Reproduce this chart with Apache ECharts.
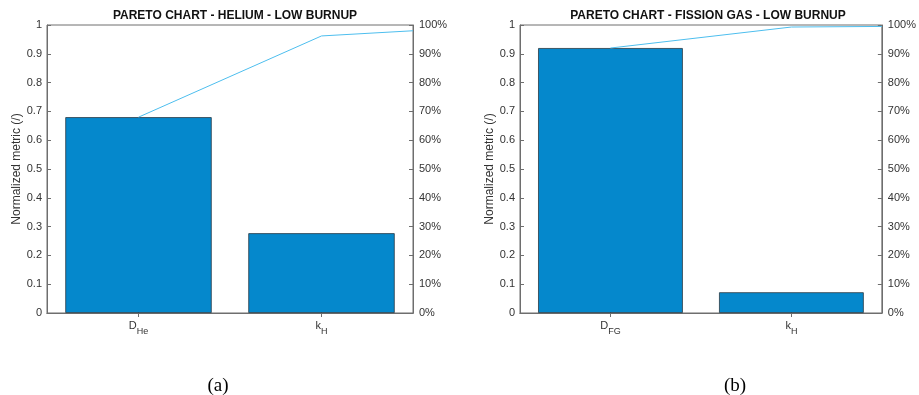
<!DOCTYPE html>
<html>
<head>
<meta charset="utf-8">
<script src="https://cdn.jsdelivr.net/npm/echarts@6/dist/echarts.min.js"></script>
<style>
    html, body { margin: 0; padding: 0; background: #fff; }
    #chart { width: 919px; height: 395px; }
</style>
</head>
<body>
<div id="chart"></div>
<script>
// categories: main symbol | subscript
var catsA = ['D|He', 'k|H'];
var valsA = [0.68, 0.277];
var catsB = ['D|FG', 'k|H'];
var valsB = [0.92, 0.072];

// cumulative line (percent), x positions in category units
var cumX = [0.5, 1.5, 2];
var cumA = [68, 96.2, 98];
var cumB = [92, 99.3, 99.5];

var titles = ['PARETO CHART - HELIUM - LOW BURNUP', 'PARETO CHART - FISSION GAS - LOW BURNUP'];
var panelTags = ['(a)', '(b)'];

var axisColor = '#6e6e6e';
var textColor = '#333';
var font = 'Liberation Sans, Arial, sans-serif';

function catLabel(v) {
    var p = v.split('|');
    return '{b|' + p[0] + '}{s|' + p[1] + '}';
}

function buildPanel(i, cats, vals, cum) {
    var xCat = {
        type: 'category', gridIndex: i, data: cats, position: 'bottom',
        axisLine: { show: true, lineStyle: { color: axisColor } },
        axisTick: { show: true, inside: true, alignWithLabel: true, length: 4, lineStyle: { color: axisColor } },
        axisLabel: {
            margin: 7, formatter: catLabel,
            rich: {
                b: { fontFamily: font, fontSize: 11, color: textColor, verticalAlign: 'top', lineHeight: 13 },
                s: { fontFamily: font, fontSize: 9, color: textColor, verticalAlign: 'top', lineHeight: 13, padding: [7, 0, 0, 0] }
            }
        }
    };
    var xTop = {
        type: 'category', gridIndex: i, data: cats, position: 'top', show: true,
        axisLine: { show: true, lineStyle: { color: axisColor } },
        axisTick: { show: true, inside: true, alignWithLabel: true, length: 4, lineStyle: { color: axisColor } },
        axisLabel: { show: false }
    };
    var xLine = {
        type: 'value', gridIndex: i, min: 0, max: 2, show: false
    };
    var yLeft = {
        type: 'value', gridIndex: i, min: 0, max: 1, interval: 0.1, position: 'left',
        name: 'Normalized metric (/)', nameLocation: 'middle', nameGap: 24,
        nameTextStyle: { fontFamily: font, fontSize: 12, color: textColor },
        axisLine: { show: true, lineStyle: { color: axisColor } },
        axisTick: { show: true, inside: true, length: 4, lineStyle: { color: axisColor } },
        axisLabel: { fontFamily: font, fontSize: 11, color: textColor, margin: 5 },
        splitLine: { show: false }
    };
    var yRight = {
        type: 'value', gridIndex: i, min: 0, max: 100, interval: 10, position: 'right',
        axisLine: { show: true, lineStyle: { color: axisColor } },
        axisTick: { show: true, inside: true, length: 4, lineStyle: { color: axisColor } },
        axisLabel: { fontFamily: font, fontSize: 11, color: textColor, margin: 6, formatter: '{value}%' },
        splitLine: { show: false }
    };
    return { x: [xCat, xTop, xLine], y: [yLeft, yRight], vals: vals, cum: cum };
}

var chartDom = document.getElementById('chart');
var myChart = echarts.init(chartDom);
var option;

var panels = [buildPanel(0, catsA, valsA, cumA), buildPanel(1, catsB, valsB, cumB)];

var xAxes = [], yAxes = [], series = [];
panels.forEach(function (p, i) {
    var xBase = xAxes.length, yBase = yAxes.length;
    xAxes = xAxes.concat(p.x);
    yAxes = yAxes.concat(p.y);
    series.push({
        type: 'bar', xAxisIndex: xBase, yAxisIndex: yBase,
        data: p.vals, barWidth: '80%',
        itemStyle: { color: '#0588cc', borderColor: '#2b3a44', borderWidth: 0.8 },
        silent: true
    });
    series.push({
        type: 'line', xAxisIndex: xBase + 2, yAxisIndex: yBase + 1,
        data: cumX.map(function (x, k) { return [x, p.cum[k]]; }),
        symbol: 'none', lineStyle: { color: '#4dbeee', width: 1 },
        silent: true
    });
});

option = {
    animation: false,
    textStyle: { fontFamily: font },
    title: [
        { text: titles[0], left: 230, top: 5, textAlign: 'center',
          textStyle: { fontFamily: font, fontSize: 12, fontWeight: 'bold', color: '#111' } },
        { text: titles[1], left: 703, top: 5, textAlign: 'center',
          textStyle: { fontFamily: font, fontSize: 12, fontWeight: 'bold', color: '#111' } },
        { text: panelTags[0], left: 213, top: 372, textAlign: 'center',
          textStyle: { fontFamily: 'Liberation Serif, Times New Roman, serif', fontSize: 19, fontWeight: 'normal', color: '#000' } },
        { text: panelTags[1], left: 730, top: 372, textAlign: 'center',
          textStyle: { fontFamily: 'Liberation Serif, Times New Roman, serif', fontSize: 19, fontWeight: 'normal', color: '#000' } }
    ],
    grid: [
        { left: 47, right: 506, top: 25, bottom: 82, show: true, borderColor: axisColor, borderWidth: 1, backgroundColor: 'transparent' },
        { left: 520, right: 32, top: 25, bottom: 82, show: true, borderColor: axisColor, borderWidth: 1, backgroundColor: 'transparent' }
    ],
    xAxis: xAxes,
    yAxis: yAxes,
    series: series
};

option && myChart.setOption(option);
</script>
</body>
</html>
